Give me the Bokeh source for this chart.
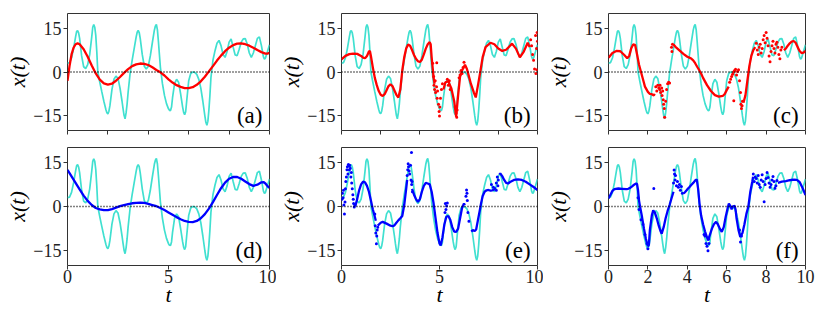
import math
from bokeh.plotting import figure
from bokeh.layouts import gridplot
from bokeh.models import Label, FixedTicker, Span
from bokeh.embed import file_html
from bokeh.resources import INLINE

NaN = float("nan")

# ---- true signal (cyan), same in all panels ----
true_t = [0.0, 0.1, 0.2, 0.3, 0.4, 0.45, 0.5, 0.55, 0.6, 0.7, 0.8, 0.9, 1.0, 1.1, 1.2, 1.25, 1.3, 1.35,
          1.4, 1.45, 1.5, 1.6, 1.7, 1.8, 1.9, 1.95, 2.0, 2.05, 2.1, 2.2, 2.3, 2.4, 2.5, 2.6, 2.7, 2.75,
          2.8, 2.85, 2.9, 2.95, 3.0, 3.1, 3.2, 3.3, 3.4, 3.45, 3.5, 3.55, 3.6, 3.7, 3.8, 3.9, 4.0, 4.1,
          4.2, 4.3, 4.35, 4.4, 4.45, 4.5, 4.55, 4.6, 4.7, 4.8, 4.9, 5.0, 5.05, 5.1, 5.15, 5.2, 5.3, 5.4,
          5.5, 5.6, 5.7, 5.75, 5.8, 5.85, 5.9, 6.0, 6.1, 6.2, 6.3, 6.4, 6.5, 6.6, 6.7, 6.8, 6.85, 6.9,
          6.95, 7.0, 7.05, 7.1, 7.2, 7.3, 7.4, 7.5, 7.6, 7.7, 7.8, 7.9, 8.0, 8.1, 8.2, 8.3, 8.4, 8.5,
          8.6, 8.7, 8.8, 8.9, 9.0, 9.1, 9.2, 9.3, 9.4, 9.5, 9.6, 9.7, 9.75, 9.8, 9.9, 10.0]
true_x = [3.0, 3.2, 4.8, 8.0, 12.0, 13.8, 14.2, 13.4, 11.5, 5.5, 1.8, 1.2, 2.5, 6.0, 12.0, 15.3, 16.2, 15.3,
          12.5, 7.0, 0.0, -3.5, -6.8, -10.0, -12.8, -13.9, -14.3, -13.4, -11.5, -6.0, -2.5, -1.4, -2.2, -5.5, -10.0, -12.5,
          -14.8, -16.0, -14.0, -11.0, -7.0, -0.5, 4.0, 8.0, 12.0, 13.6, 14.2, 13.5, 11.5, 6.0, 2.0, 1.0, 2.0, 5.5,
          10.0, 14.3, 15.7, 16.3, 14.5, 10.5, 6.0, 1.5, -4.0, -8.0, -10.8, -12.6, -13.1, -13.2, -12.0, -8.8, -4.0, -2.5,
          -3.5, -7.5, -12.0, -13.8, -14.6, -13.6, -10.0, -3.0, -0.5, 0.0, -0.1, -0.8, -2.5, -5.5, -10.0, -15.0, -17.2, -18.2,
          -16.8, -13.0, -8.0, -2.0, 4.0, 7.2, 9.8, 10.8, 9.0, 6.0, 5.0, 7.0, 10.2, 11.3, 8.5, 5.8, 5.6, 7.8,
          10.2, 11.3, 11.4, 9.5, 6.5, 5.0, 6.5, 9.0, 11.5, 12.0, 9.0, 5.2, 4.4, 4.8, 7.0, 9.3]

# ---- (a) red estimate ----
a_t = [0.0, 0.1, 0.2, 0.3, 0.4, 0.5, 0.6, 0.8, 1.0, 1.2, 1.4, 1.6, 1.8, 2.0, 2.2, 2.4, 2.6, 2.8, 3.0,
       3.2, 3.4, 3.6, 3.8, 4.0, 4.2, 4.4, 4.6, 4.8, 5.0, 5.2, 5.4, 5.6, 5.8, 6.0, 6.2, 6.4, 6.6, 6.8,
       7.0, 7.2, 7.4, 7.6, 7.8, 8.0, 8.2, 8.4, 8.6, 8.8, 9.0, 9.2, 9.4, 9.6, 9.8, 9.9, 10.0]
a_x = [-3.0, 2.0, 6.0, 8.3, 9.5, 9.8, 9.5, 7.8, 5.2, 2.2, -0.5, -2.6, -3.9, -4.3, -4.0, -3.0, -1.7, -0.3, 1.0,
       2.0, 2.6, 2.9, 2.8, 2.4, 1.6, 0.7, -0.1, -1.2, -2.5, -3.6, -4.5, -5.1, -5.5, -5.5, -5.2, -4.4, -3.2, -1.6,
       0.2, 2.0, 3.9, 5.6, 7.1, 8.3, 9.2, 9.7, 9.8, 9.5, 9.0, 8.3, 7.5, 6.8, 6.3, 6.3, 6.6]
a_dot_t = []
a_dot_x = []

# ---- (b) red estimate ----
b_t = [0.0, 0.2, 0.4, 0.6, 0.8, 1.0, 1.1, 1.2, 1.3, 1.4, 1.45, 1.5, 1.6, 1.7, 1.8, 1.9, 2.0, 2.1, 2.2,
       2.3, 2.4, 2.5, 2.6, 2.7, 2.8, 2.9, 3.0, 3.1, 3.2, 3.3, 3.4, 3.5, 3.6, 3.7, 3.8, 3.9, 4.0, 4.1,
       4.2, 4.3, 4.4, 4.5, 4.55, 4.6, 4.7, 4.75, NaN,
       5.2, 5.3, 5.45, 5.6, 5.75, 5.85, 5.95, 6.05, 6.15, 6.3, 6.4, 6.5, 6.6, 6.75, 6.85, 6.95, 7.08,
       7.2, 7.35, 7.6, 7.8, 8.0, 8.2, 8.4, 8.6, 8.7, 8.9, 9.1, 9.3, 9.5, 9.6]
b_x = [4.3, 5.5, 6.1, 6.3, 6.2, 5.5, 4.9, 4.7, 5.5, 7.0, 7.2, 5.5, 1.5, -2.0, -4.5, -6.5, -7.8, -8.2, -7.6,
       -6.2, -4.8, -4.2, -4.8, -6.3, -7.8, -8.7, -6.0, 0.5, 5.0, 8.0, 9.4, 9.0, 7.5, 5.8, 4.5, 3.7, 3.4, 4.2,
       6.0, 8.0, 9.5, 10.2, 9.5, 5.0, -2.0, -4.0, NaN,
       -6.0, -3.5, -3.2, -5.5, -10.0, -15.3, -8.0, -1.5, 0.5, 2.5, 1.0, -1.5, -4.0, -7.0, -8.7, -5.0, 0.0,
       5.0, 8.5, 10.0, 9.5, 8.0, 7.2, 7.6, 9.0, 9.7, 8.0, 5.0, 7.0, 10.0, 8.5]
b_dot_t = [4.65, 4.7, 4.72, 4.75, 4.78, 4.8, 4.85, 4.86, 4.88, 4.9, 4.95, 4.98, 5.0, 5.02, 5.05, 5.1, 5.15,
           5.4, 5.45, 5.5, 5.55, 5.8, 5.85, 5.88, 5.9, 6.0, 6.05, 6.1, 6.15, 6.2, 6.25,
           9.65, 9.7, 9.75, 9.8, 9.85, 9.9, 9.92, 9.95, 9.97, 9.98, 10.0]
b_dot_x = [3.0, -1.5, -4.5, -6.0, -3.0, -7.0, -5.0, 3.2, -9.0, -6.5, -11.0, -13.5, -15.0, -12.0, -9.0, -6.0, -4.0,
           -2.5, -4.5, -3.0, -6.0, -12.0, -14.0, -15.5, -13.0, -2.0, -1.0, 0.5, -0.5, 1.5, 3.3,
           11.0, 9.0, 6.0, 4.0, 1.0, 12.5, -0.5, 8.0, 0.8, 13.5, 10.5]

# ---- (c) red estimate ----
c_t = [0.0, 0.2, 0.4, 0.6, 0.8, 0.95, 1.05, 1.15, 1.25, 1.35, 1.45, 1.55, 1.65, 1.75, 1.85, 2.0, 2.1,
       2.2, 2.3, 2.35, NaN,
       3.3, 3.4, 3.6, 3.8, 4.0, 4.1, 4.2, 4.3, 4.4, 4.5, 4.6, 4.7, 4.8, 5.0, 5.2, 5.4, 5.6, 5.8, 5.9,
       6.0, 6.1, NaN,
       6.85, 6.95, 7.05, 7.15, 7.25, 7.35, 7.45, NaN,
       8.9, 9.0, 9.1, 9.2, 9.3, 9.4, 9.5, 9.6, 9.7, 9.8, 9.9, 10.0]
c_x = [4.9, 6.5, 7.2, 7.1, 5.8, 4.7, 5.5, 8.0, 9.4, 9.3, 6.0, 2.5, 0.0, -2.5, -5.0, -6.8, -7.5,
       -7.6, -8.0, -7.5, NaN,
       9.4, 8.6, 7.4, 6.2, 5.2, 4.9, 4.6, 4.0, 3.0, 1.8, 0.7, -0.5, -2.0, -4.5, -6.5, -7.9, -8.4, -8.2, -7.5,
       -6.2, -5.0, NaN,
       -10.5, -8.0, -3.0, 2.0, 5.5, 7.5, 8.5, NaN,
       7.5, 8.0, 9.0, 9.8, 10.4, 10.6, 10.0, 8.5, 7.2, 6.5, 6.6, 7.2]
c_dot_t = [2.4, 2.45, 2.5, 2.55, 2.6, 2.62, 2.65, 2.7, 2.72, 2.75, 2.78, 2.8, 2.83, 2.85, 2.9, 2.95, 3.0,
           3.05, 3.1, 3.2, 3.22, 3.25,
           6.15, 6.2, 6.25, 6.3, 6.35, 6.4, 6.45, 6.5, 6.55, 6.6, 6.36, 6.65, 6.7, 6.72, 6.75, 6.78, 6.8,
           7.5, 7.55, 7.6, 7.65, 7.7, 7.75, 7.8, 7.85, 7.9, 7.95, 8.0, 8.05, 8.1, 8.15, 8.2, 8.25, 8.3,
           8.35, 8.4, 8.45, 8.5, 8.55, 8.6, 8.65, 8.7, 8.75, 8.8]
c_dot_x = [-5.0, -6.5, -4.5, -5.5, -6.0, -4.5, -7.0, -5.5, -8.0, -6.5, -9.5, -11.0, -12.5, -15.5, -10.0, -6.0, -4.0,
           -3.5, -3.8, 8.5, 7.0, 9.5,
           -3.5, -2.5, -1.5, -0.8, 0.0, 0.5, 0.9, -1.0, 0.2, 0.8, -9.8, -3.0, -7.0, -11.0, -12.5, -11.5, -10.0,
           9.8, 7.5, 6.0, 8.5, 9.5, 6.5, 8.0, 11.0, 12.5, 10.0, 13.5, 11.5, 9.0, 5.5, 3.5, 7.0, 9.0,
           10.5, 8.0, 6.5, 9.5, 10.2, 8.5, 6.0, 4.5, 7.5, 8.5]

# ---- (d) blue estimate ----
d_t = [0.0, 0.2, 0.4, 0.6, 0.8, 1.0, 1.2, 1.4, 1.6, 1.8, 2.0, 2.2, 2.4, 2.6, 2.8, 3.0, 3.2, 3.4, 3.6,
       3.8, 4.0, 4.2, 4.4, 4.6, 4.8, 5.0, 5.2, 5.4, 5.6, 5.8, 6.0, 6.2, 6.4, 6.6, 6.8, 7.0, 7.2, 7.4,
       7.6, 7.8, 8.0, 8.2, 8.4, 8.6, 8.8, 9.0, 9.2, 9.4, 9.6, 9.7, 9.8, 9.9, 10.0]
d_x = [12.4, 10.2, 8.0, 5.8, 3.7, 1.9, 0.5, -0.5, -1.0, -1.25, -1.2, -0.9, -0.4, 0.1, 0.5, 0.8, 1.1, 1.25, 1.3,
       1.2, 0.9, 0.5, 0.1, -0.5, -1.2, -2.0, -2.8, -3.6, -4.3, -4.9, -5.2, -5.3, -4.9, -4.0, -2.6, -0.7, 1.5, 3.9,
       6.2, 8.1, 9.4, 10.0, 10.0, 9.4, 8.5, 7.6, 7.0, 7.4, 8.2, 8.3, 7.8, 6.9, 6.3]
d_dot_t = []
d_dot_x = []

# ---- (e) blue estimate ----
e_t = [0.7, 0.8, 0.9, 1.0, 1.1, 1.2, 1.3, 1.4, 1.5, 1.6, 1.7, 1.75, NaN,
       1.85, 2.0, 2.1, 2.3, 2.5, 2.6, 2.7, 2.8, 2.9, 3.0, 3.1, 3.2, 3.3, 3.35, NaN,
       3.6, 3.7, 3.8, 3.9, 4.0, 4.1, 4.2, 4.3, 4.4, 4.5, 4.6, 4.7, 4.8, 4.9, 5.0, 5.06, 5.15, 5.25, 5.35,
       5.45, 5.55, 5.65, 5.75, 5.85, 5.95, 6.05, 6.15, 6.25, 6.3, NaN,
       6.62, 6.7, 6.8, 6.87, 6.95, 7.05, 7.12, 7.2, 7.3, 7.4, 7.5, 7.6, 7.7, 7.8, 7.86, NaN,
       8.05, 8.1, 8.2, 8.3, 8.4, 8.5, 8.6, 8.8, 9.0, 9.2, 9.4, 9.6, 9.8, 10.0]
e_x = [0.0, 2.5, 5.5, 7.5, 8.4, 8.2, 7.0, 5.0, 2.0, -1.0, -3.5, -4.8, NaN,
       -6.5, -5.5, -5.2, -5.8, -6.5, -6.7, -6.4, -5.5, -4.7, -4.0, -3.2, 0.5, 6.0, 9.0, NaN,
       6.0, 4.0, 2.5, 1.6, 2.5, 5.0, 7.0, 8.0, 7.8, 7.5, 5.0, 1.0, -4.0, -9.0, -12.5, -13.2, -10.5, -6.0, -3.5,
       -3.2, -4.5, -7.0, -8.5, -8.6, -7.5, -4.0, -0.5, 1.0, 0.5, NaN,
       -8.5, -8.0, -8.3, -7.8, -5.0, -1.5, 1.0, 3.5, 5.0, 5.5, 5.6, 5.4, 5.5, 5.8, 6.5, NaN,
       10.8, 11.2, 10.3, 9.0, 8.0, 7.8, 8.3, 9.0, 9.2, 9.0, 8.4, 7.5, 6.6, 5.6]
e_dot_t = [0.02, 0.05, 0.08, 0.1, 0.12, 0.15, 0.18, 0.2, 0.22, 0.25, 0.28, 0.3, 0.33, 0.35, 0.38, 0.4,
           0.42, 0.45, 0.48, 0.5, 0.52, 0.55, 0.58, 0.6, 0.62, 0.65, 0.68,
           1.7, 1.72, 1.75, 1.78, 1.8, 1.82, 1.85,
           3.35, 3.38, 3.4, 3.42, 3.45, 3.48, 3.52, 3.55, 3.57, 3.58, 3.6, 3.62,
           5.28, 5.3, 5.33, 5.36, 5.4, 6.35, 6.38, 6.4, 6.42, 6.45, 6.5,
           7.65, 7.75, 7.9, 7.9, 7.95, 7.98, 8.0]
e_dot_x = [2.5, 4.5, 3.0, 5.5, 0.5, -2.5, 1.5, 6.0, 8.5, 10.0, 12.5, 13.5, 11.0, 14.2, 13.8, 12.5,
           14.0, 13.0, 10.0, 11.5, 8.0, 6.0, 4.0, 2.5, 1.0, -0.2, 0.5,
           -2.5, -6.5, -9.0, -12.6, -10.0, -8.0, -7.0,
           10.5, 12.5, 14.5, 13.5, 12.0, 11.0, 14.0, 9.0, 18.3, 7.5, 8.5, 5.0,
           -2.0, 1.0, -1.0, 0.2, 1.2, 3.5, 5.6, 4.5, 2.0, -2.0, -5.0,
           7.5, 6.5, 8.0, 5.5, 10.0, 7.0, 9.0]

# ---- (f) blue estimate ----
f_t = [0.0, 0.1, 0.2, 0.3, 0.5, 0.7, 0.9, 1.0, 1.1, 1.2, 1.3, 1.4, 1.45, 1.5, 1.55, 1.6, 1.7, 1.8, 1.9,
       2.0, 2.05, 2.1, 2.2, 2.27, 2.35, 2.45, 2.55, 2.65, 2.7, 2.8, 2.9, 3.0, 3.1, 3.2, 3.3, NaN,
       3.82, 3.9, 4.0, 4.1, 4.2, 4.3, 4.4, 4.48, 4.55, 4.62, 4.7, 4.8, 4.9, 5.0, 5.05, 5.15, 5.25, 5.35,
       5.46, 5.55, 5.65, 5.75, 5.85, 5.95, 6.05, 6.11, 6.2, 6.25, 6.3, 6.4, 6.45, 6.5, 6.6, 6.69, 6.8,
       6.9, 7.0, 7.1, 7.2, 7.3, 7.34, NaN,
       8.6, 8.8, 9.0, 9.2, 9.4, 9.56, 9.7, 9.8, 9.9, 10.0]
f_x = [2.7, 4.0, 5.3, 5.9, 6.1, 6.0, 5.9, 6.0, 6.3, 6.8, 7.4, 7.8, 7.6, 5.5, 2.0, 0.0, -3.5, -7.5, -11.0,
       -13.5, -13.0, -8.0, -3.0, -1.3, -2.0, -4.0, -6.5, -8.5, -9.2, -7.0, -4.0, -1.5, 0.5, 2.8, 5.0, NaN,
       4.4, 5.0, 5.8, 6.5, 7.3, 8.0, 8.8, 9.2, 6.0, 1.0, -3.0, -6.0, -8.5, -10.5, -11.5, -9.5, -7.5, -6.0,
       -5.2, -6.0, -7.5, -8.6, -7.0, -3.5, -0.5, 1.0, 0.0, -1.0, 0.0, 0.2, -1.0, -4.0, -8.0, -10.3, -9.0,
       -6.0, -2.5, 0.0, 5.0, 8.5, 10.1, NaN,
       8.0, 8.4, 8.6, 8.9, 9.1, 9.0, 8.3, 7.0, 5.5, 3.9]
f_dot_t = [1.5, 1.55, 1.65, 1.75, 1.85, 1.95, 2.0, 2.3,
           3.3, 3.33, 3.35, 3.38, 3.4, 3.45, 3.5, 3.55, 3.6, 3.65, 3.7, 3.75,
           4.85, 4.9, 4.95, 5.0, 5.05, 5.08, 5.1, 6.65, 6.7, 6.75,
           7.35, 7.4, 7.45, 7.5, 7.55, 7.6, 7.65, 7.7, 7.75, 7.8, 7.85, 7.9, 7.95, 8.0, 8.05, 8.1,
           8.15, 8.2, 8.25, 8.3, 8.35, 8.4, 8.45, 8.5, 8.55]
f_dot_x = [3.0, -1.0, -4.5, -6.0, -9.5, -12.5, -14.3, 6.1,
           8.0, 12.4, 11.0, 9.0, 10.5, 7.0, 8.5, 6.5, 7.5, 5.5, 6.8, 4.5,
           -9.5, -10.0, -12.5, -13.5, -15.0, -11.0, -12.5, -8.0, -12.0, -10.0,
           11.0, 8.5, 10.0, 9.5, 8.0, 10.5, 7.5, 6.5, 9.0, 10.8, 8.5, 1.6, 7.5, 9.5, 11.5, 9.8,
           8.0, 6.5, 7.5, 9.0, 10.2, 8.5, 6.2, 7.0, 8.8]

y_ticks = [-15, 0, 15]
y_tick_labels = {-15: "\u221215", 0: "0", 15: "15"}
x_ticks_fine = [0, 2, 4, 6, 8, 10]
x_ticks_coarse = [0, 5, 10]

FONT = "Liberation Serif"
CYAN = "#40E0D0"
RED = "#FF0000"
BLUE = "#0000FF"
FRAME = "#333333"

col_w = [276, 267, 283]
col_l = [67, 59, 59]
col_r = [7, 6, 21]
row_h = [138, 172]
row_t = [13, 9]
row_b = [8, 45]


def panel(r, c, lt, lx, dt, dx, color, tag, xticks):
    p = figure(width=col_w[c], height=row_h[r], x_range=(0, 10), y_range=(-20, 20),
               output_backend="svg", toolbar_location=None, title=None,
               min_border_left=col_l[c], min_border_right=col_r[c],
               min_border_top=row_t[r], min_border_bottom=row_b[r])
    p.background_fill_color = "white"
    p.border_fill_color = "white"
    p.outline_line_color = FRAME
    p.outline_line_width = 1
    p.xgrid.visible = False
    p.ygrid.visible = False
    p.axis.axis_line_color = None
    p.axis.major_tick_line_color = FRAME
    p.axis.major_tick_out = 4
    p.axis.major_tick_in = 0
    p.axis.minor_tick_line_color = None
    p.axis.major_label_text_font = FONT
    p.axis.major_label_text_font_size = "18px"
    p.axis.major_label_text_color = "#222222"
    p.axis.axis_label_text_font = FONT
    p.axis.axis_label_text_font_style = "italic"
    p.axis.axis_label_text_color = "black"
    p.yaxis.ticker = FixedTicker(ticks=y_ticks)
    p.yaxis.major_label_overrides = y_tick_labels
    p.yaxis.major_label_standoff = 2
    p.yaxis.axis_label = "x(t)"
    p.yaxis.axis_label_text_font_size = "22px"
    p.yaxis.axis_label_standoff = 0
    p.xaxis.ticker = FixedTicker(ticks=xticks)
    if r == 0:
        p.xaxis.major_label_overrides = {v: "" for v in xticks}
        p.xaxis.major_label_text_font_size = "1px"
        p.xaxis.major_label_standoff = 0
    else:
        p.xaxis.major_label_standoff = 0
        p.xaxis.axis_label = "t"
        p.xaxis.axis_label_text_font_size = "22px"
        p.xaxis.axis_label_standoff = -4

    p.line(true_t, true_x, line_color=CYAN, line_width=1.7)
    p.add_layout(Span(location=0, dimension="width", line_color="black",
                      line_width=1.4, line_dash="1 2"))
    p.line(lt, lx, line_color=color, line_width=2.3)
    if dt:
        p.scatter(dt, dx, marker="circle", size=3.0, fill_color=color, line_color=None)

    p.add_layout(Label(x=9.65, y=-19.1, text=tag, text_align="right", text_baseline="bottom",
                       text_font=FONT, text_font_size="23px", text_color="black"))
    return p


pa = panel(0, 0, a_t, a_x, a_dot_t, a_dot_x, RED, "(a)", x_ticks_fine)
pb = panel(0, 1, b_t, b_x, b_dot_t, b_dot_x, RED, "(b)", x_ticks_fine)
pc = panel(0, 2, c_t, c_x, c_dot_t, c_dot_x, RED, "(c)", x_ticks_fine)
pd = panel(1, 0, d_t, d_x, d_dot_t, d_dot_x, BLUE, "(d)", x_ticks_coarse)
pe = panel(1, 1, e_t, e_x, e_dot_t, e_dot_x, BLUE, "(e)", x_ticks_coarse)
pf = panel(1, 2, f_t, f_x, f_dot_t, f_dot_x, BLUE, "(f)", x_ticks_fine)

grid = gridplot([[pa, pb, pc], [pd, pe, pf]], toolbar_location=None)

open("out.html", "w").write(file_html(grid, INLINE))
